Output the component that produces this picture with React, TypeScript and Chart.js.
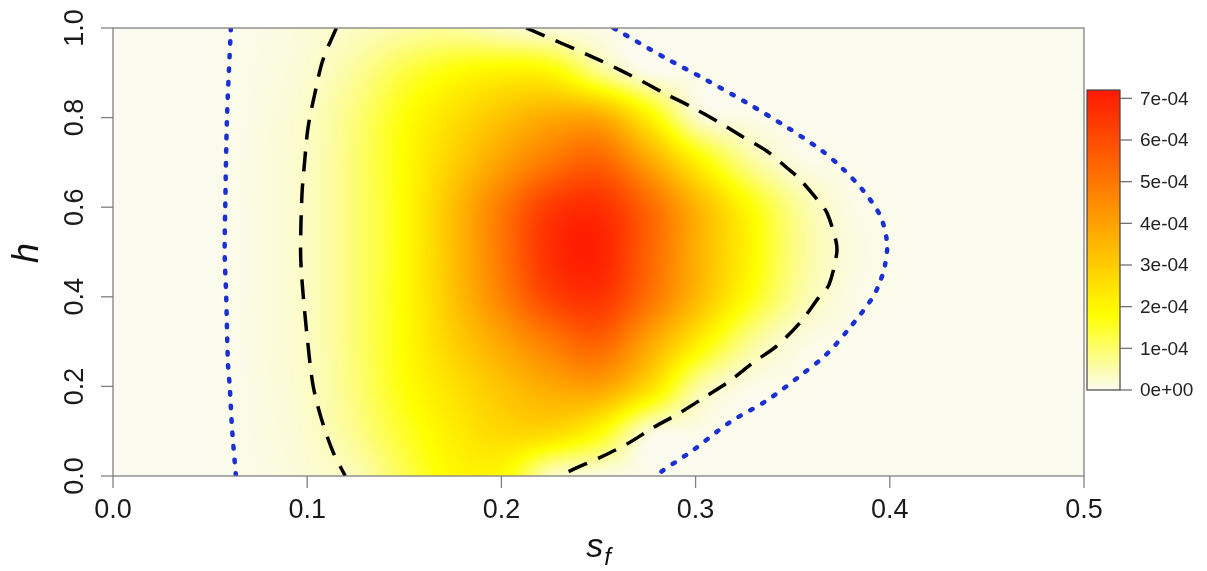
import { useEffect, useRef } from 'react';
import { Chart, registerables } from 'chart.js';
Chart.register(...registerables);

// ---- grid of the density surface (values in units of 1e-5) ----
const sfGrid = [0, 0.025, 0.05, 0.075, 0.1, 0.125, 0.15, 0.175, 0.2, 0.225, 0.25, 0.275, 0.3, 0.325, 0.35, 0.375, 0.4, 0.425, 0.45, 0.475, 0.5];
const hGrid = [0, 0.1, 0.2, 0.3, 0.4, 0.5, 0.6, 0.7, 0.8, 0.9, 1.0];

const rowH00 = [0, 0, 0.15, 0.8, 2, 4.5, 12, 19.5, 19, 4, 1.3, 0.55, 0.15, 0, 0, 0, 0, 0, 0, 0, 0];
const rowH01 = [0, 0, 0.15, 1.0, 2.6, 7.5, 15, 22, 27, 27, 19, 2.8, 0.8, 0.15, 0, 0, 0, 0, 0, 0, 0];
const rowH02 = [0, 0, 0.15, 1.1, 3.1, 9, 17.5, 25, 32, 38, 40, 27, 7, 1.1, 0.4, 0, 0, 0, 0, 0, 0];
const rowH03 = [0, 0, 0.15, 1.2, 3.3, 9.5, 18.5, 29, 39, 49, 55, 40, 23, 8.5, 1.8, 0.5, 0, 0, 0, 0, 0];
const rowH04 = [0, 0, 0.15, 1.2, 3.4, 9.5, 18.5, 32, 47, 62, 66, 52, 35, 19, 7, 1.4, 0.35, 0, 0, 0, 0];
const rowH05 = [0, 0, 0.15, 1.2, 3.4, 9.5, 18.5, 33, 50, 67, 70, 55, 37, 22, 8.5, 2, 0.5, 0, 0, 0, 0];
const rowH06 = [0, 0, 0.15, 1.2, 3.4, 9.5, 18.5, 33, 49, 64, 67, 54, 36, 20, 7.5, 1.5, 0.35, 0, 0, 0, 0];
const rowH07 = [0, 0, 0.15, 1.2, 3.3, 9.5, 18.5, 29, 40, 50, 55, 40, 22, 8, 1.6, 0.5, 0, 0, 0, 0, 0];
const rowH08 = [0, 0, 0.15, 1.1, 3.1, 9, 17.5, 25, 32, 38, 38, 22, 3.5, 0.9, 0.2, 0, 0, 0, 0, 0, 0];
const rowH09 = [0, 0, 0.15, 0.9, 2.3, 6.5, 13, 18, 21, 20, 8.5, 1.0, 0.45, 0.1, 0, 0, 0, 0, 0, 0, 0];
const rowH10 = [0, 0, 0.15, 0.7, 1.8, 3.5, 5.5, 6.5, 3.6, 1.4, 0.6, 0.2, 0, 0, 0, 0, 0, 0, 0, 0, 0];
const densityUnit = 1e-5;

// ---- contour lines (sf, h) ----
const dashedLeft = [[0.1150, 1.0], [0.1081, 0.929], [0.1038, 0.851], [0.1004, 0.777], [0.0987, 0.703], [0.0973, 0.628], [0.0966, 0.5], [0.0975, 0.426], [0.0999, 0.314], [0.1030, 0.2025], [0.1073, 0.128], [0.1133, 0.0536], [0.1196, 0]];
const dashedRight = [[0.2128, 1.0], [0.2502, 0.929], [0.2725, 0.881], [0.2836, 0.855], [0.2974, 0.825], [0.3111, 0.792], [0.3240, 0.758], [0.3368, 0.725], [0.3471, 0.6875], [0.3531, 0.665], [0.3634, 0.613], [0.3677, 0.587], [0.3723, 0.524], [0.3726, 0.495], [0.3686, 0.426], [0.3640, 0.4018], [0.3537, 0.342], [0.3417, 0.290], [0.3296, 0.253], [0.3176, 0.212], [0.3056, 0.1786], [0.2919, 0.141], [0.2782, 0.108], [0.2644, 0.0707], [0.2507, 0.041], [0.2335, 0.0074], [0.2325, 0]];
const dottedLeft = [[0.0607, 1.0], [0.0587, 0.8], [0.0578, 0.6], [0.0575, 0.5], [0.0583, 0.4], [0.0592, 0.25], [0.0601, 0.2], [0.0614, 0.1], [0.0633, 0]];
const dottedRight = [[0.2578, 1.0], [0.2605, 0.993], [0.2845, 0.933], [0.3051, 0.885], [0.3265, 0.8326], [0.3463, 0.7806], [0.3643, 0.7284], [0.3754, 0.6875], [0.3866, 0.6355], [0.3952, 0.5797], [0.3986, 0.520], [0.3975, 0.47], [0.3943, 0.426], [0.3905, 0.394], [0.3794, 0.331], [0.3674, 0.2716], [0.3537, 0.2232], [0.3365, 0.168], [0.3176, 0.120], [0.2988, 0.058], [0.2816, 0.0074], [0.2800, 0]];

// ---- ticks ----
const xTicks = [0, 0.1, 0.2, 0.3, 0.4, 0.5];
const yTicks = [0, 0.2, 0.4, 0.6, 0.8, 1.0];
const colorTicks = [0, 1e-4, 2e-4, 3e-4, 4e-4, 5e-4, 6e-4, 7e-4];
const colorMin = 0;
const colorMax = 7.2e-4;

const densityRows = [rowH00, rowH01, rowH02, rowH03, rowH04, rowH05, rowH06, rowH07, rowH08, rowH09, rowH10];

const FONT = "'Liberation Sans', Arial, Helvetica, sans-serif";

function heatColor(value: number): [number, number, number] {
  const t = Math.max(0, Math.min(1, (value - colorMin) / (colorMax - colorMin)));
  if (t >= 0.25) {
    const g = 25 + 230 * (1 - t) / 0.75;
    return [255, g, 0];
  }
  const s = t / 0.25;
  return [251 + 4 * s, 251 + 4 * s, 240 * (1 - s)];
}

function cr(p0: number, p1: number, p2: number, p3: number, t: number) {
  const t2 = t * t, t3 = t2 * t;
  return 0.5 * (2 * p1 + (-p0 + p2) * t + (2 * p0 - 5 * p1 + 4 * p2 - p3) * t2 + (-p0 + 3 * p1 - 3 * p2 + p3) * t3);
}

function locate(grid: number[], v: number): [number, number] {
  let k = 0;
  while (k < grid.length - 2 && v > grid[k + 1]) k++;
  const f = (v - grid[k]) / (grid[k + 1] - grid[k]);
  return [k, Math.max(0, Math.min(1, f))];
}

function sciLabel(v: number) {
  if (v === 0) return '0e+00';
  const e = Math.floor(Math.log10(v) + 1e-9);
  const m = Math.round(v / Math.pow(10, e));
  const sign = e < 0 ? '-' : '+';
  const ae = Math.abs(e);
  return `${m}e${sign}${ae < 10 ? '0' + ae : ae}`;
}

const heatPlugin = {
  id: 'heatSurface',
  beforeDatasetsDraw(chart: any) {
    const { ctx, chartArea: a, scales } = chart;
    const xs = scales.x, ys = scales.y;
    const left = Math.round(a.left), top = Math.round(a.top);
    const w = Math.round(a.right) - left, hh = Math.round(a.bottom) - top;
    const img = ctx.createImageData(w, hh);
    const nC = sfGrid.length, nR = densityRows.length;
    const colK: number[] = [], colF: number[] = [];
    for (let i = 0; i < w; i++) {
      const sf = xs.getValueForPixel(left + i + 0.5);
      const [k, f] = locate(sfGrid, sf);
      colK.push(k); colF.push(f);
    }
    const R = new Array(nC).fill(0);
    for (let j = 0; j < hh; j++) {
      const h = ys.getValueForPixel(top + j + 0.5);
      const [k, f] = locate(hGrid, h);
      const r0 = densityRows[Math.max(0, k - 1)], r1 = densityRows[k], r2 = densityRows[Math.min(nR - 1, k + 1)], r3 = densityRows[Math.min(nR - 1, k + 2)];
      for (let c = 0; c < nC; c++) R[c] = cr(r0[c], r1[c], r2[c], r3[c], f);
      for (let i = 0; i < w; i++) {
        const kc = colK[i];
        const v = Math.max(0, cr(R[Math.max(0, kc - 1)], R[kc], R[Math.min(nC - 1, kc + 1)], R[Math.min(nC - 1, kc + 2)], colF[i])) * densityUnit;
        const [r, g, b] = heatColor(v);
        const p = (j * w + i) * 4;
        img.data[p] = r; img.data[p + 1] = g; img.data[p + 2] = b; img.data[p + 3] = 255;
      }
    }
    ctx.putImageData(img, left, top);
  },
  afterDraw(chart: any) {
    const { ctx, chartArea: a, scales } = chart;
    const xs = scales.x, ys = scales.y;
    ctx.save();
    // frame
    ctx.strokeStyle = '#808080';
    ctx.lineWidth = 1.3;
    ctx.strokeRect(a.left, a.top, a.right - a.left, a.bottom - a.top);
    // x ticks
    ctx.fillStyle = '#1a1a1a';
    ctx.font = `27px ${FONT}`;
    ctx.textAlign = 'center';
    ctx.textBaseline = 'alphabetic';
    for (const t of xTicks) {
      const px = xs.getPixelForValue(t);
      ctx.beginPath(); ctx.moveTo(px, a.bottom); ctx.lineTo(px, a.bottom + 12); ctx.stroke();
      ctx.fillText(t.toFixed(1), px, a.bottom + 42);
    }
    // y ticks
    for (const t of yTicks) {
      const py = ys.getPixelForValue(t);
      ctx.beginPath(); ctx.moveTo(a.left, py); ctx.lineTo(a.left - 12, py); ctx.stroke();
      ctx.save();
      ctx.translate(a.left - 30, py);
      ctx.rotate(-Math.PI / 2);
      ctx.fillText(t.toFixed(1), 0, 0);
      ctx.restore();
    }
    // axis titles
    ctx.fillStyle = '#111';
    ctx.save();
    ctx.translate(38, (a.top + a.bottom) / 2 + 1);
    ctx.rotate(-Math.PI / 2);
    ctx.font = `italic 36px ${FONT}`;
    ctx.textAlign = 'center';
    ctx.fillText('h', 0, 0);
    ctx.restore();
    const cx = (a.left + a.right) / 2;
    ctx.textAlign = 'left';
    ctx.font = `italic 34px ${FONT}`;
    const sW = ctx.measureText('s').width;
    ctx.font = `italic 24px ${FONT}`;
    const fW = ctx.measureText('f').width;
    const x0 = cx - (sW + fW + 1) / 2;
    ctx.font = `italic 34px ${FONT}`;
    ctx.fillText('s', x0, 557);
    ctx.font = `italic 24px ${FONT}`;
    ctx.fillText('f', x0 + sW + 1, 565);

    // colour bar
    const bx = 1087, bw = 33, bTop = 90, bBot = 390;
    const valToY = (v: number) => bBot - (v - colorMin) / (colorMax - colorMin) * (bBot - bTop);
    for (let y = bTop; y < bBot; y++) {
      const v = colorMin + (bBot - (y + 0.5)) / (bBot - bTop) * (colorMax - colorMin);
      const [r, g, b] = heatColor(v);
      ctx.fillStyle = `rgb(${r},${g},${b})`;
      ctx.fillRect(bx, y, bw, 1);
    }
    ctx.strokeStyle = '#444';
    ctx.lineWidth = 1.2;
    ctx.strokeRect(bx, bTop, bw, bBot - bTop);
    ctx.strokeStyle = '#666';
    ctx.fillStyle = '#222';
    ctx.font = `19px ${FONT}`;
    ctx.textAlign = 'left';
    ctx.textBaseline = 'middle';
    for (const t of colorTicks) {
      const py = valToY(t);
      ctx.beginPath(); ctx.moveTo(bx + bw, py); ctx.lineTo(bx + bw + 12, py); ctx.stroke();
      ctx.fillText(sciLabel(t), bx + bw + 20, py + 1);
    }
    ctx.restore();
  },
};

const toPts = (arr: number[][]) => arr.map(([sf, h]) => ({ x: sf, y: h }));

export default function App() {
  const ref = useRef<HTMLCanvasElement>(null);
  useEffect(() => {
    const dashStyle = { borderColor: '#000000', borderWidth: 3.5, borderDash: [20, 12], borderCapStyle: 'butt', pointRadius: 0, showLine: true, tension: 0.3, fill: false };
    const dotStyle = { borderColor: '#1c2fd0', borderWidth: 4.5, borderDash: [2.5, 11], borderCapStyle: 'round', pointRadius: 0, showLine: true, tension: 0.3, fill: false };
    const chart = new Chart(ref.current!, {
      type: 'scatter',
      data: {
        datasets: [
          { label: 'dashed-left', data: toPts(dashedLeft), ...dashStyle } as any,
          { label: 'dashed-right', data: toPts(dashedRight), ...dashStyle } as any,
          { label: 'dotted-left', data: toPts(dottedLeft), ...dotStyle } as any,
          { label: 'dotted-right', data: toPts(dottedRight), ...dotStyle } as any,
        ],
      },
      options: {
        animation: false,
        responsive: false,
        devicePixelRatio: 1,
        layout: { padding: { left: 113, right: 123, top: 28, bottom: 95 } },
        scales: {
          x: { type: 'linear', min: 0, max: 0.5, display: false },
          y: { type: 'linear', min: 0, max: 1, display: false },
        },
        plugins: { legend: { display: false }, tooltip: { enabled: false } },
      },
      plugins: [heatPlugin],
    });
    return () => chart.destroy();
  }, []);
  return (
    <div style={{ position: 'absolute', left: 0, top: 0, width: 1207, height: 571, background: '#ffffff' }}>
      <canvas ref={ref} width={1207} height={571} style={{ display: 'block' }} />
    </div>
  );
}
